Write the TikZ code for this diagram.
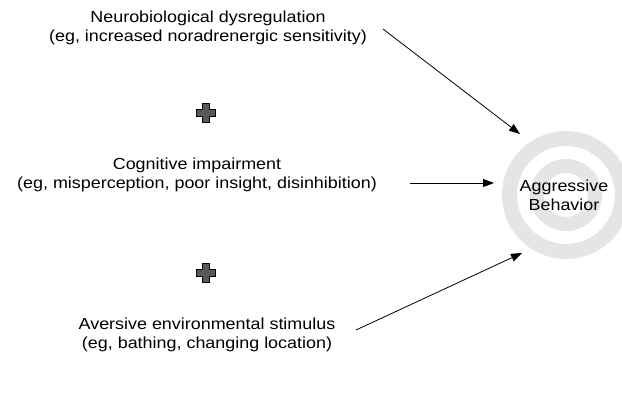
\documentclass[tikz,border=0pt]{standalone}
\usepackage{fontspec}
\setmainfont{Liberation Sans}
\newfontfamily\lblfont[FakeStretch=1.12]{Liberation Sans}
\usetikzlibrary{arrows.meta}
\tikzset{
  lbl/.style={align=center, font=\lblfont\fontsize{16}{19}\selectfont, inner sep=0pt},
  conn/.style={-{Triangle[length=11pt,width=8pt]}, line width=0.8pt},
  plusbox/.style={fill=black!65, draw=black, line width=1pt},
}
\begin{document}
\begin{tikzpicture}[x=1pt,y=-1pt]
\useasboundingbox (0,0) rectangle (622,392);
% target
\fill[black!10, even odd rule] (566,195) circle (64) (566,195) circle (49);
\fill[black!10, even odd rule] (566,195) circle (36) (566,195) circle (22);
\node[lbl] (ab) at (564,195) {Aggressive\\Behavior};
\coordinate (t1) at (520,134);
\coordinate (t2) at (494,183);
\coordinate (t3) at (522,253);
% sources
\node[lbl] (n1) at (208,28) {Neurobiological dysregulation\\(eg, increased noradrenergic sensitivity)};
\node[lbl] (n2) at (197,175) {Cognitive impairment\\(eg, misperception, poor insight, disinhibition)};
\node[lbl] (n3) at (207,335) {Aversive environmental stimulus\\(eg, bathing, changing location)};
\coordinate (s1) at (383,29);
\coordinate (s2) at (410,183);
\coordinate (s3) at (356,330);
\draw[conn] (s1) -- (t1);
\draw[conn] (s2) -- (t2);
\draw[conn] (s3) -- (t3);
% plus signs
\foreach \n/\y in {p1/113, p2/273}{
  \path[plusbox] (206,\y) ++(-3.5,-9.5) -- ++(7,0) -- ++(0,6) -- ++(6,0) -- ++(0,7) -- ++(-6,0) -- ++(0,6) -- ++(-7,0) -- ++(0,-6) -- ++(-6,0) -- ++(0,-7) -- ++(6,0) -- cycle;
}
\end{tikzpicture}
\end{document}
